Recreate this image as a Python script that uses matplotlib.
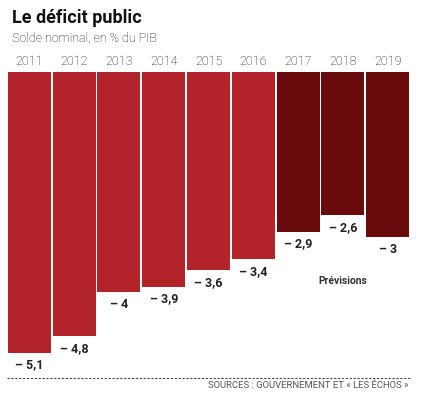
import matplotlib.pyplot as plt

# --- données ---
annees = ['2011', '2012', '2013', '2014', '2015', '2016', '2017', '2018', '2019']
solde = [-5.1, -4.8, -4.0, -3.9, -3.6, -3.4, -2.9, -2.6, -3.0]
etiquettes = ['– 5,1', '– 4,8', '– 4', '– 3,9', '– 3,6', '– 3,4', '– 2,9', '– 2,6', '– 3']
prevision = [False, False, False, False, False, False, True, True, True]

plt.rcParams['font.family'] = ['Roboto', 'DejaVu Sans']

rouge = '#B3242A'
bordeaux = '#690A0C'

fig = plt.figure(figsize=(4.33, 3.99), dpi=100)
W, H = 433, 399
ax = fig.add_axes([7 / W, (H - 378) / H, 403 / W, (378 - 72) / H])

x = list(range(len(annees)))
couleurs = [bordeaux if p else rouge for p in prevision]
ax.bar(x, solde, width=0.96, color=couleurs)
ax.set_xlim(-0.5, len(annees) - 0.5)
ax.set_ylim(-(378 - 72) / 55.1, 0)
ax.axis('off')

for xi, v, lab in zip(x, solde, etiquettes):
    ax.annotate(lab, (xi, v), xytext=(0, -4), textcoords='offset points',
                ha='center', va='top', fontsize=9, fontweight='bold', color='#222222')
    ax.annotate(annees[xi], (xi, 0), xytext=(0, 3), textcoords='offset points',
                ha='center', va='bottom', fontsize=9, fontweight='light', color='#111111')

# Prévisions sous 2018
ax.annotate('Prévisions', (7, -2.6), xytext=(0, -44), textcoords='offset points',
            ha='center', va='top', fontsize=7.5, fontweight='bold', color='#333333')

# titre
fig.text(12 / W, 1 - 18 / H, 'Le déficit public', fontsize=13, fontweight='bold',
         va='center', ha='left', color='#111111')
fig.text(12 / W, 1 - 38 / H, 'Solde nominal, en % du PIB', fontsize=9, fontweight='light',
         va='center', ha='left', color='#111111')

# ligne pointillée et source
fig.add_artist(plt.Line2D([7 / W, 410 / W], [(H - 378) / H] * 2, color='#444444',
                          lw=0.8, ls=(0, (2, 1.5))))
fig.text(408 / W, 1 - 386 / H, 'SOURCES : GOUVERNEMENT ET « LES ÉCHOS »', fontsize=6.8,
         ha='right', va='center', color='#555555')

fig.savefig('out.png', dpi=100)
